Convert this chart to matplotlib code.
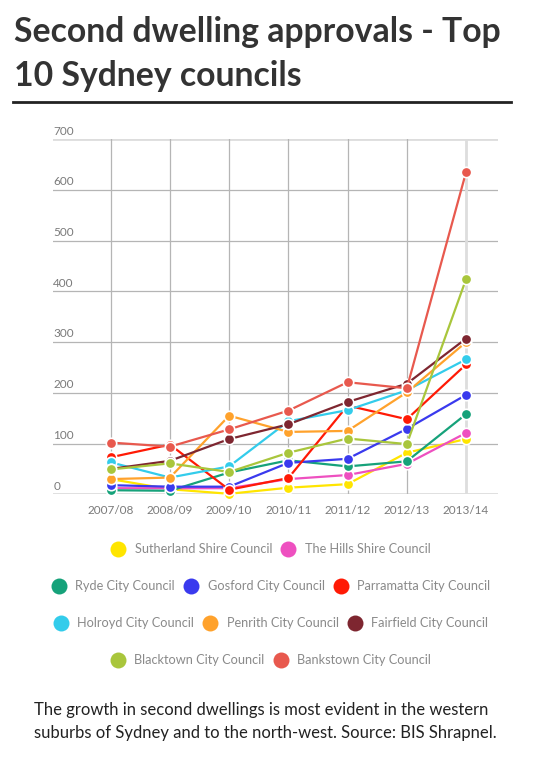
import matplotlib.pyplot as plt
from matplotlib.lines import Line2D
from matplotlib.transforms import blended_transform_factory

# ======= Data =======
years = ['2007/08', '2008/09', '2009/10', '2010/11', '2011/12', '2012/13', '2013/14']

councils = ['Sutherland Shire Council', 'The Hills Shire Council', 'Ryde City Council',
            'Gosford City Council', 'Parramatta City Council', 'Holroyd City Council',
            'Penrith City Council', 'Fairfield City Council', 'Blacktown City Council',
            'Bankstown City Council']

sutherland = [30, 10, 1, 13, 20, 82, 109]
the_hills = [12, 12, 12, 30, 38, 60, 121]
ryde = [8, 7, 43, 67, 55, 65, 158]
gosford = [18, 15, 15, 62, 70, 129, 196]
parramatta = [73, 98, 9, 32, 175, 148, 256]
holroyd = [63, 33, 55, 144, 166, 205, 266]
penrith = [30, 33, 155, 123, 125, 201, 300]
fairfield = [50, 66, 109, 138, 182, 218, 307]
blacktown = [49, 61, 44, 82, 110, 99, 424]
bankstown = [102, 94, 128, 165, 221, 209, 635]

series = [sutherland, the_hills, ryde, gosford, parramatta,
          holroyd, penrith, fairfield, blacktown, bankstown]

colors = ['#FFE500', '#EE50C0', '#16A27A', '#3A3AEE', '#FF1A05',
          '#33CCEB', '#FFA22C', '#7E2630', '#A9C63C', '#E8594E']

y_ticks = [0, 100, 200, 300, 400, 500, 600, 700]

legend_rows = [[0, 1], [2, 3, 4], [5, 6, 7], [8, 9]]

# ======= Figure =======
W, H = 550, 763
fig = plt.figure(figsize=(W / 100, H / 100), dpi=100)
fig.patch.set_facecolor('white')

font = ['Lato', 'DejaVu Sans']

# title
fig.text(14 / W, 1 - 42 / H, 'Second dwelling approvals - Top', family=font,
         fontsize=24.3, fontweight='bold', color='#333333', va='baseline', ha='left')
fig.text(14 / W, 1 - 85.5 / H, '10 Sydney councils', family=font,
         fontsize=24.3, fontweight='bold', color='#333333', va='baseline', ha='left')
fig.add_artist(Line2D([13 / W, 511 / W], [1 - 101.5 / H, 1 - 101.5 / H],
                      color='#222222', lw=2))

# plot area
ax = fig.add_axes([53.3 / W, 1 - 494.3 / H, (497.7 - 53.3) / W, (494.3 - 139.3) / H])
x = list(range(len(years)))
ax.set_xlim(-0.97, 6.535)
ax.set_ylim(0, 700)
for s in ax.spines.values():
    s.set_visible(False)
ax.tick_params(length=0)
ax.set_yticks([])
ax.set_xticks(x)
ax.set_xticklabels(years, family=font, fontsize=8.5, color='#7a7a7a')
ax.tick_params(axis='x', pad=8)

for v in y_ticks:
    edge = v in (0, 700)
    ax.axhline(v, color='#dddddd' if edge else '#b5b5b5', lw=2 if edge else 0.9, zorder=0)
trans = blended_transform_factory(ax.transAxes, ax.transData)
for v in y_ticks:
    ax.annotate(str(v), xy=(0, v), xycoords=trans, xytext=(0, 2),
                textcoords='offset points', family=font, fontsize=8.5,
                color='#7a7a7a', ha='left', va='bottom')
for xi in x:
    last = xi == x[-1]
    ax.axvline(xi, color='#dddddd' if last else '#b5b5b5', lw=2 if last else 0.9, zorder=0)

for vals, c in zip(series, colors):
    ax.plot(x, vals, color=c, lw=1.6, marker='o', markersize=7.5,
            markeredgecolor='white', markeredgewidth=1.2, clip_on=False, zorder=3)

# legend rows
row_y = [549, 586, 623, 660]
for row, yy in zip(legend_rows, row_y):
    handles = [Line2D([], [], ls='', marker='o', markersize=11.5, color=colors[i],
                      markeredgewidth=0) for i in row]
    labels = [councils[i] for i in row]
    fig.legend(handles, labels, loc='center', bbox_to_anchor=(271 / W, 1 - yy / H),
               ncol=len(row), frameon=False, handlelength=1.1, handletextpad=0.75,
               columnspacing=0.7, borderaxespad=0, borderpad=0,
               prop={'family': font, 'size': 9.2}, labelcolor='#8a8a8a')

# caption
fig.text(34 / W, 1 - 715 / H,
         'The growth in second dwellings is most evident in the western',
         family=font, fontsize=12, color='#222222', va='baseline')
fig.text(34 / W, 1 - 738 / H,
         'suburbs of Sydney and to the north-west. Source: BIS Shrapnel.',
         family=font, fontsize=12, color='#222222', va='baseline')

fig.savefig('out.png', dpi=100)
